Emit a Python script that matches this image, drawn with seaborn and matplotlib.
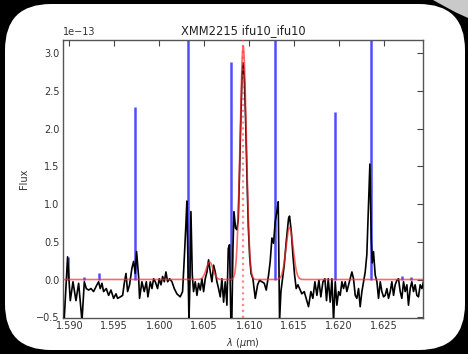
import numpy as np
import pandas as pd
import matplotlib
matplotlib.use("Agg")
import matplotlib.pyplot as plt
import seaborn as sns
from matplotlib.patches import FancyBboxPatch, Polygon
from matplotlib.ticker import FormatStrFormatter, MultipleLocator

# ---------------- data (flux in units of 1e-13) ----------------
spec_wl = [1.58930, 1.58944, 1.58981, 1.59011, 1.59041, 1.59074, 1.59104, 1.59141, 1.59167, 1.59189,
           1.59215, 1.59241, 1.59270, 1.59307, 1.59326, 1.59344, 1.59363, 1.59381, 1.59411, 1.59437,
           1.59463, 1.59493, 1.59519, 1.59537, 1.59567, 1.59593, 1.59611, 1.59630, 1.59648, 1.59670,
           1.59696, 1.59715, 1.59733, 1.59748, 1.59770, 1.59781, 1.59807, 1.59833, 1.59856, 1.59874,
           1.59900, 1.59919, 1.59937, 1.59956, 1.59981, 1.60000, 1.60019, 1.60037, 1.60056, 1.60074,
           1.60093, 1.60115, 1.60141, 1.60167, 1.60196, 1.60233, 1.60259, 1.60278, 1.60296, 1.60307,
           1.60319, 1.60330, 1.60341, 1.60352, 1.60367, 1.60381, 1.60400, 1.60419, 1.60437, 1.60456,
           1.60474, 1.60493, 1.60511, 1.60530, 1.60548, 1.60567, 1.60585, 1.60604, 1.60622, 1.60641,
           1.60659, 1.60678, 1.60696, 1.60715, 1.60733, 1.60752, 1.60767, 1.60781, 1.60796, 1.60807,
           1.60819, 1.60830, 1.60848, 1.60863, 1.60878, 1.60893, 1.60908, 1.60920, 1.60933, 1.60946,
           1.60960, 1.60975, 1.60990, 1.61005, 1.61020, 1.61041, 1.61067, 1.61093, 1.61115, 1.61141,
           1.61167, 1.61189, 1.61215, 1.61233, 1.61252, 1.61270, 1.61289, 1.61307, 1.61322, 1.61337,
           1.61352, 1.61370, 1.61389, 1.61411, 1.61437, 1.61448, 1.61467, 1.61485, 1.61504, 1.61522,
           1.61541, 1.61559, 1.61585, 1.61611, 1.61633, 1.61659, 1.61685, 1.61707, 1.61730, 1.61752,
           1.61774, 1.61796, 1.61819, 1.61841, 1.61859, 1.61878, 1.61900, 1.61919, 1.61937, 1.61956,
           1.61974, 1.61993, 1.62011, 1.62030, 1.62048, 1.62067, 1.62085, 1.62104, 1.62122, 1.62141,
           1.62159, 1.62178, 1.62196, 1.62215, 1.62233, 1.62252, 1.62270, 1.62289, 1.62307, 1.62322,
           1.62341, 1.62356, 1.62367, 1.62381, 1.62400, 1.62419, 1.62437, 1.62456, 1.62474, 1.62493,
           1.62511, 1.62530, 1.62548, 1.62567, 1.62585, 1.62604, 1.62622, 1.62641, 1.62659, 1.62678,
           1.62696, 1.62715, 1.62733, 1.62752, 1.62770, 1.62789, 1.62807, 1.62826, 1.62844, 1.62863,
           1.62881, 1.62900, 1.62919, 1.62937]
spec_flux = [-0.55, -0.52, 0.30, -0.28, -0.03, -0.28, -0.05, -0.55, -0.03, -0.12,
             -0.14, -0.12, -0.16, -0.07, -0.03, -0.12, -0.05, -0.16, -0.12, -0.21,
             -0.14, -0.25, -0.19, -0.25, -0.23, -0.21, -0.05, 0.08, -0.16, -0.07,
             0.15, 0.24, 0.08, 0.37, 0.04, -0.25, -0.03, -0.16, -0.03, -0.23,
             -0.03, -0.12, 0.01, -0.03, -0.12, 0.01, -0.07, 0.04, -0.03, 0.10,
             -0.03, 0.01, -0.03, -0.12, -0.19, -0.23, -0.16, 0.28, 0.73, 1.04,
             0.19, -0.55, -0.03, 0.90, 0.06, -0.16, -0.03, -0.21, -0.05, -0.14,
             0.01, -0.16, 0.01, 0.10, 0.26, 0.10, -0.03, 0.19, 0.10, -0.03,
             -0.12, -0.23, 0.01, -0.30, -0.03, -0.34, 0.41, 0.46, -0.55, -0.52,
             0.41, 0.90, 0.68, 0.66, 0.80, 1.45, 2.20, 2.70, 2.87, 2.65,
             2.10, 1.35, 0.70, 0.30, 0.08, 0.01, -0.25, -0.07, -0.01, -0.03,
             -0.05, -0.14, 0.06, 0.24, 0.55, 0.48, 0.77, 0.90, 1.03, -0.55,
             -0.16, 0.01, 0.19, 0.50, 0.81, 0.84, 0.64, 0.33, 0.06, -0.12,
             -0.07, -0.12, -0.19, -0.16, -0.25, -0.36, -0.16, -0.25, -0.03, -0.21,
             -0.01, -0.23, -0.03, 0.01, -0.28, 0.01, -0.30, 0.01, -0.55, -0.03,
             -0.34, -0.16, -0.21, -0.03, -0.12, -0.03, -0.16, -0.07, 0.01, 0.10,
             0.01, -0.21, -0.25, -0.12, -0.36, -0.16, -0.03, 0.10, 0.33, 0.86,
             1.53, 0.55, 0.22, 0.37, 0.06, -0.03, -0.25, -0.03, -0.16, -0.23,
             -0.21, -0.12, -0.25, -0.16, -0.03, -0.21, -0.07, -0.01, 0.01, -0.16,
             -0.25, -0.03, -0.16, -0.07, -0.34, -0.12, -0.03, -0.16, -0.07, -0.21,
             -0.23, -0.07, -0.12, -0.03]

# sky lines (blue)
sky_wl = [1.58981, 1.59160, 1.59326, 1.59730, 1.60314, 1.60800, 1.61290, 1.61950, 1.62356, 1.62700, 1.62797]
sky_h = [0.30, 0.03, 0.08, 2.28, 3.60, 2.88, 3.60, 2.22, 3.60, 0.04, 0.03]

# gaussian fit (red): H-alpha and [NII] doublet
fit_center = [1.60560, 1.60933, 1.61448]
fit_amp = [0.23, 3.09, 0.69]
fit_sigma = [0.00038, 0.00035, 0.00040]
fit_cont = 0.0
line_mark = 1.60933

title = "XMM2215 ifu10_ifu10"
x_label = r"$\lambda$ ($\mu$m)"
y_label = "Flux"
scale = 1e-13

# ---------------- figure ----------------
sns.set_style("white")
plt.rcParams["font.family"] = ["DejaVu Sans"]

fig = plt.figure(figsize=(4.68, 3.54), dpi=100, facecolor="black")

grey = Polygon([(4.33, 3.54), (4.68, 3.54), (4.68, 3.36), (4.55, 3.42)], closed=True,
               transform=fig.dpi_scale_trans, fc="#c9c9c9", ec="none", zorder=-11)
fig.add_artist(grey)
panel = FancyBboxPatch((0.05, 0.04), 4.60, 3.46,
                       boxstyle="round,pad=0,rounding_size=0.46",
                       transform=fig.dpi_scale_trans, fc="white", ec="none", zorder=-10)
fig.add_artist(panel)

ax = fig.add_axes([0.1346, 0.1017, 0.769, 0.7867])
ax.set_facecolor("white")

df = pd.DataFrame({"wl": spec_wl, "flux": np.array(spec_flux) * scale})

ax.vlines(sky_wl, 0, np.array(sky_h) * scale, colors="#2f2fff", lw=1.8, alpha=0.85, zorder=2)
sns.lineplot(data=df, x="wl", y="flux", color="black", lw=1.2, ax=ax,
             estimator=None, sort=False, zorder=3)

grid = np.linspace(1.5893, 1.6293, 3000)
model = np.full_like(grid, fit_cont)
for c, a, s in zip(fit_center, fit_amp, fit_sigma):
    model = model + a * np.exp(-0.5 * ((grid - c) / s) ** 2)
ax.plot(grid, model * scale, color="#ff2a2a", lw=1.2, alpha=0.7, zorder=4)
ax.axvline(line_mark, color="#ff3a3a", ls=":", lw=1.6, alpha=0.6, zorder=4)

ax.set_xlim(1.5893, 1.6293)
ax.set_ylim(-0.51 * scale, 3.18 * scale)
ax.set_yticks(np.arange(-0.5, 3.01, 0.5) * scale)
ax.xaxis.set_major_locator(MultipleLocator(0.005))
ax.xaxis.set_major_formatter(FormatStrFormatter("%.3f"))

ax.tick_params(direction="in", top=True, right=True, length=4, width=0.8,
               labelsize=7, labelcolor="#333333", color="#444444", pad=2.5)
ax.yaxis.get_offset_text().set_fontsize(7)
ax.yaxis.get_offset_text().set_color("#333333")
for sp in ax.spines.values():
    sp.set_color("#555555")
    sp.set_linewidth(1.0)

ax.set_title(title, fontsize=8.3, color="#222222", pad=4)
ax.set_xlabel(x_label, fontsize=7, color="#333333", labelpad=3)
ax.set_ylabel(y_label, fontsize=7, color="#333333", labelpad=5)

fig.savefig("out.png", dpi=100, facecolor=fig.get_facecolor())
